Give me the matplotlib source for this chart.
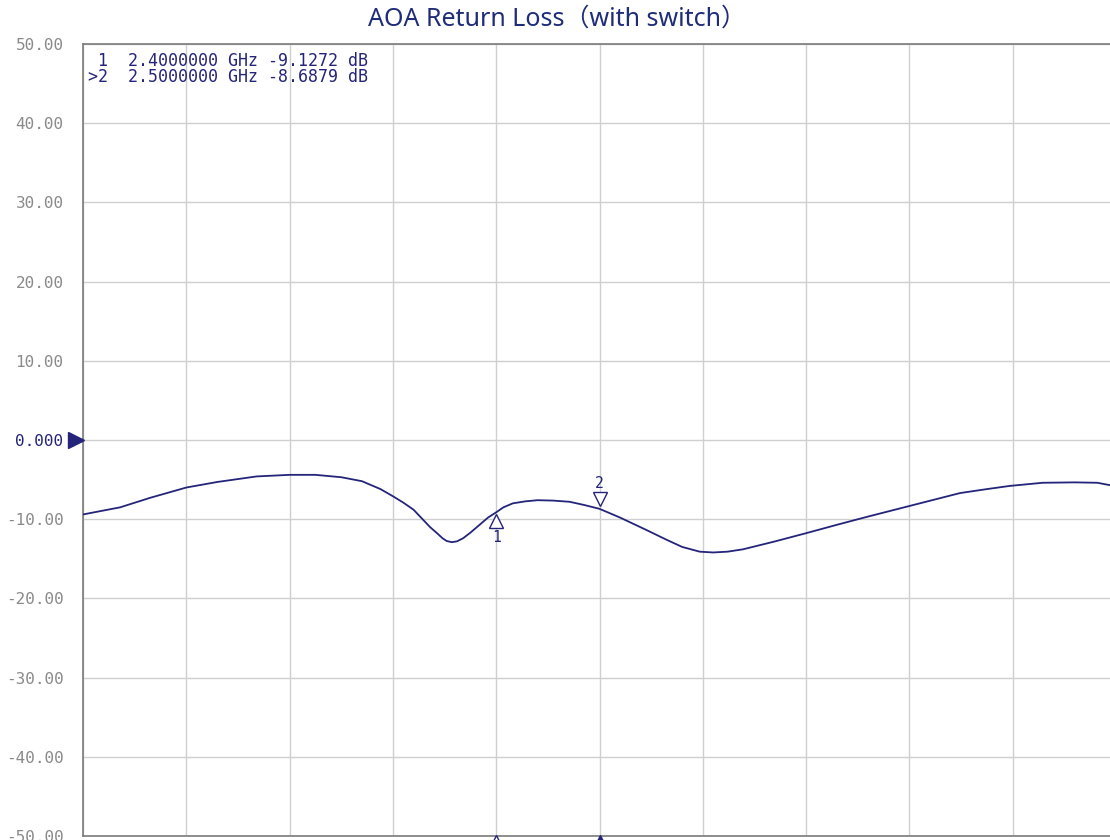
import matplotlib
matplotlib.use("Agg")
import matplotlib.pyplot as plt
from matplotlib.transforms import offset_copy

# ---- data ----
freq_ghz = [2.000, 2.036, 2.065, 2.100, 2.130, 2.168, 2.200, 2.225, 2.250, 2.270,
            2.288, 2.300, 2.310, 2.320, 2.328, 2.336, 2.343, 2.348, 2.352, 2.357,
            2.362, 2.368, 2.375, 2.384, 2.392, 2.400, 2.407, 2.416, 2.428, 2.440,
            2.455, 2.471, 2.485, 2.500, 2.520, 2.546, 2.565, 2.580, 2.597, 2.610,
            2.624, 2.639, 2.670, 2.699, 2.730, 2.759, 2.798, 2.825, 2.849, 2.875,
            2.897, 2.929, 2.960, 2.982, 2.994, 3.000]
rl_db = [-9.4, -8.5, -7.3, -6.0, -5.3, -4.6, -4.4, -4.4, -4.7, -5.2,
         -6.2, -7.1, -7.9, -8.8, -9.9, -11.0, -11.8, -12.4, -12.75, -12.9,
         -12.8, -12.4, -11.7, -10.7, -9.8, -9.13, -8.5, -8.0, -7.75, -7.6,
         -7.65, -7.8, -8.2, -8.69, -9.8, -11.4, -12.6, -13.5, -14.1, -14.2,
         -14.1, -13.8, -12.8, -11.8, -10.7, -9.7, -8.4, -7.5, -6.7, -6.2,
         -5.8, -5.4, -5.35, -5.4, -5.7, -5.9]

marker_ids = ["1", "2"]
marker_freq = [2.4, 2.5]
marker_db = [-9.1272, -8.6879]

y_ticks = [50, 40, 30, 20, 10, 0, -10, -20, -30, -40, -50]
y_ticklabels = ["50.00", "40.00", "30.00", "20.00", "10.00", "0.000",
                "-10.00", "-20.00", "-30.00", "-40.00", "-50.00"]
x_grid = [2.0 + 0.1 * i for i in range(11)]

title = "AOA Return Loss（with switch）"

# ---- style ----
navy = "#24247a"
grid_c = "#cfcfcf"
label_c = "#8a8a8a"

fig = plt.figure(figsize=(11.10, 8.40), dpi=100)
ax = fig.add_axes([83 / 1110, 4 / 840, 1033 / 1110, 792 / 840])
ax.set_xlim(2.0, 3.0)
ax.set_ylim(-50, 50)

ax.set_xticks(x_grid)
ax.set_yticks(y_ticks)
ax.set_yticklabels(y_ticklabels)
ax.tick_params(axis="x", length=0, labelbottom=False)
ax.tick_params(axis="y", length=0, pad=14, labelsize=11.5, labelcolor=label_c)
for lab in ax.get_yticklabels():
    lab.set_family("DejaVu Sans Mono")
    if lab.get_text() == "0.000":
        lab.set_color(navy)
ax.grid(True, color=grid_c, linewidth=1.0)
ax.set_axisbelow(True)
for side in ["top", "bottom", "left", "right"]:
    ax.spines[side].set_color("#7a7a7a")
    ax.spines[side].set_linewidth(1.2)

# trace
ax.plot(freq_ghz, rl_db, color=navy, linewidth=1.3, zorder=3)

# markers on trace
for mid, mf, md in zip(marker_ids, marker_freq, marker_db):
    if mid == "1":
        tr = offset_copy(ax.transData, fig=fig, x=0, y=-6, units="points")
        ax.plot([mf], [md], marker="^", markersize=10, markerfacecolor="white",
                markeredgecolor=navy, markeredgewidth=1.0, transform=tr, zorder=4)
        trt = offset_copy(ax.transData, fig=fig, x=0, y=-18, units="points")
        ax.text(mf, md, mid, transform=trt, ha="center", va="center",
                fontsize=10.5, color=navy, family="DejaVu Sans Mono", zorder=4)
    else:
        tr = offset_copy(ax.transData, fig=fig, x=0, y=7, units="points")
        ax.plot([mf], [md], marker="v", markersize=10, markerfacecolor="white",
                markeredgecolor=navy, markeredgewidth=1.0, transform=tr, zorder=4)
        trt = offset_copy(ax.transData, fig=fig, x=0, y=18, units="points")
        ax.text(mf, md, mid, transform=trt, ha="center", va="center",
                fontsize=10.5, color=navy, family="DejaVu Sans Mono", zorder=4)

# markers at bottom edge
for mid, mf in zip(marker_ids, marker_freq):
    tr = offset_copy(ax.transData, fig=fig, x=0, y=-3, units="points")
    face = "white" if mid == "1" else navy
    ax.plot([mf], [-50], marker="^", markersize=7, markerfacecolor=face,
            markeredgecolor=navy, markeredgewidth=1.0, transform=tr,
            clip_on=False, zorder=5)

# reference level arrow
tr = offset_copy(ax.get_yaxis_transform(), fig=fig, x=-5, y=0, units="points")
ax.plot([0], [0], marker=">", markersize=12, color=navy, transform=tr,
        clip_on=False, zorder=5)

# marker readout
readout = []
for i, (mid, mf, md) in enumerate(zip(marker_ids, marker_freq, marker_db)):
    prefix = ">" if i == len(marker_ids) - 1 else " "
    readout.append(f"{prefix}{mid}  {mf:.7f} GHz {md:.4f} dB")
ax.text(0.005, 0.99, "\n".join(readout), transform=ax.transAxes,
        ha="left", va="top", fontsize=12, color=navy,
        family="DejaVu Sans Mono", linespacing=0.85)

fig.text(557 / 1110, 1 - 19 / 840, title, ha="center", va="center",
         fontsize=18, color="#1f2c7a",
         family=["Noto Sans", "Noto Sans CJK SC", "DejaVu Sans"])

fig.savefig("out.png", dpi=100)
